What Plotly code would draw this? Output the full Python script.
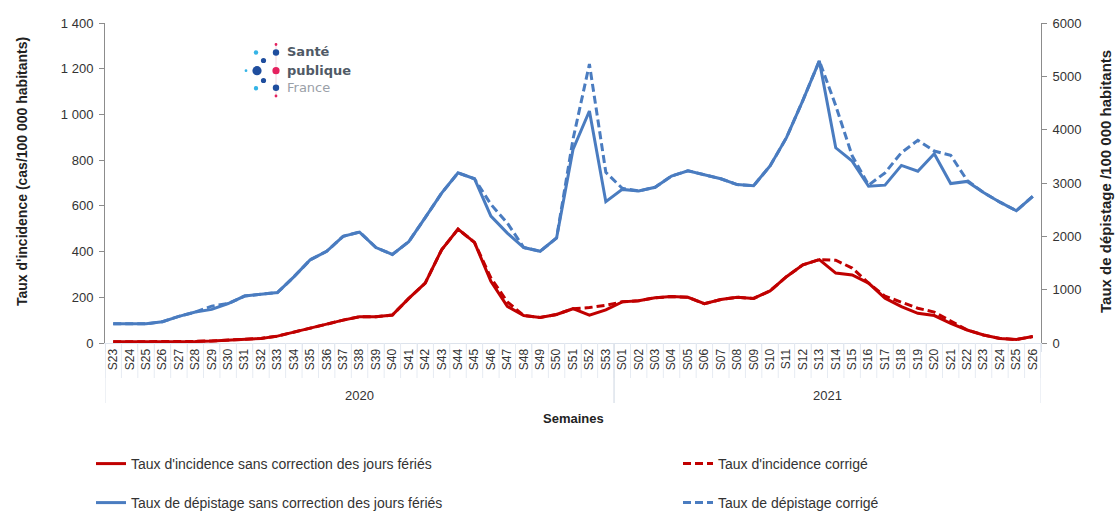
import plotly.graph_objects as go

# ---------------- data ----------------
weeks_2020 = ["S23", "S24", "S25", "S26", "S27", "S28", "S29", "S30", "S31", "S32",
              "S33", "S34", "S35", "S36", "S37", "S38", "S39", "S40", "S41", "S42",
              "S43", "S44", "S45", "S46", "S47", "S48", "S49", "S50", "S51", "S52", "S53"]
weeks_2021 = ["S01", "S02", "S03", "S04", "S05", "S06", "S07", "S08", "S09", "S10",
              "S11", "S12", "S13", "S14", "S15", "S16", "S17", "S18", "S19", "S20",
              "S21", "S22", "S23", "S24", "S25", "S26"]
year_labels = ["2020", "2021"]

incidence_raw = [5, 5, 5, 5, 6, 7, 9, 12, 16, 20,
                 30, 48, 65, 85, 100, 115, 115, 122, 195, 262,
                 408, 498, 440, 270, 160, 120, 112, 125, 150, 122, 145,
                 180, 185, 198, 203, 200, 172, 190, 200, 195, 228,
                 290, 342, 365, 306, 298, 262, 196, 159, 130, 120,
                 86, 57, 35, 20, 15, 28]
incidence_corr = [5, 5, 5, 5, 6, 7, 9, 12, 16, 20,
                  30, 48, 65, 85, 100, 115, 115, 122, 195, 262,
                  408, 498, 440, 285, 180, 120, 112, 125, 150, 155, 165,
                  180, 185, 198, 203, 200, 172, 190, 200, 195, 228,
                  290, 342, 365, 362, 328, 262, 205, 178, 152, 135,
                  95, 57, 35, 20, 15, 28]
depistage_raw = [360, 355, 360, 400, 500, 580, 630, 740, 880, 915,
                 945, 1240, 1560, 1720, 2000, 2080, 1790, 1660, 1900, 2350,
                 2810, 3190, 3080, 2380, 2060, 1790, 1720, 1970, 3630, 4350, 2650,
                 2880, 2850, 2920, 3130, 3230, 3150, 3080, 2970, 2950, 3320,
                 3850, 4550, 5290, 3660, 3410, 2940, 2960, 3330, 3220, 3550,
                 2990, 3030, 2820, 2640, 2480, 2750]
depistage_corr = [360, 355, 360, 400, 500, 580, 690, 740, 880, 915,
                  945, 1240, 1560, 1720, 2000, 2080, 1790, 1660, 1900, 2350,
                  2810, 3190, 3080, 2600, 2250, 1790, 1720, 1970, 3820, 5230, 3200,
                  2900, 2850, 2920, 3130, 3230, 3150, 3080, 2970, 2950, 3320,
                  3850, 4550, 5290, 4450, 3510, 2960, 3190, 3570, 3800, 3600,
                  3520, 3050, 2820, 2640, 2480, 2750]

names = ["Taux d'incidence sans correction des jours fériés",
         "Taux d'incidence corrigé",
         "Taux de dépistage sans correction des jours fériés",
         "Taux de dépistage corrigé"]

# ---------------- categories ----------------
groups = [(year_labels[0], weeks_2020), (year_labels[1], weeks_2021)]
x_keys, x_text = [], []
for yr, wks in groups:
    for w in wks:
        x_keys.append(yr + " " + w)
        x_text.append(w)

RED = "#c00000"
BLUE = "#4a7cc0"
DASH = "8px,4px"
FONT = "Liberation Sans, Arial, sans-serif"

fig = go.Figure()
fig.add_trace(go.Scatter(x=x_keys, y=incidence_corr, name=names[1], mode="lines",
                         line=dict(color=RED, width=3, dash=DASH),
                         legend="legend2", yaxis="y"))
fig.add_trace(go.Scatter(x=x_keys, y=depistage_corr, name=names[3], mode="lines",
                         line=dict(color=BLUE, width=3, dash=DASH),
                         legend="legend4", yaxis="y2"))
fig.add_trace(go.Scatter(x=x_keys, y=incidence_raw, name=names[0], mode="lines",
                         line=dict(color=RED, width=3),
                         legend="legend", yaxis="y"))
fig.add_trace(go.Scatter(x=x_keys, y=depistage_raw, name=names[2], mode="lines",
                         line=dict(color=BLUE, width=3),
                         legend="legend3", yaxis="y2"))

L, R, T, B = 105, 76, 23, 169
W, H = 1117, 512
PW, PH = W - L - R, H - T - B


def px(xpix):
    return (xpix - L) / PW


def py(ypix):
    return (T + PH - ypix) / PH


def leg(xpix, ypix):
    return dict(x=px(xpix), y=py(ypix), xanchor="left", yanchor="middle",
                orientation="v", font=dict(size=14, color="#333333", family=FONT),
                bgcolor="rgba(0,0,0,0)", borderwidth=0)


LIGHT_AX = "#dde3ec"
fig.update_layout(
    width=W, height=H,
    margin=dict(l=L, r=R, t=T, b=B, autoexpand=False),
    paper_bgcolor="white", plot_bgcolor="white",
    font=dict(family=FONT, color="#333333", size=12),
    separators=", ",
    showlegend=True,
    legend=leg(91, 464),
    legend2=leg(678, 464),
    legend3=leg(91, 503),
    legend4=leg(678, 503),
    xaxis=dict(type="category", range=[-0.5, len(x_keys) - 0.5],
               tickmode="array", tickvals=x_keys, ticktext=x_text,
               tickangle=-90, tickfont=dict(size=12, color="#333333"),
               ticks="outside", tickson="boundaries", ticklen=8, tickcolor=LIGHT_AX,
               showline=True, linecolor=LIGHT_AX, linewidth=1,
               showgrid=False, zeroline=False),
    yaxis=dict(range=[0, 1400], dtick=200, tickformat=",d",
               showline=True, linecolor="#8c8c8c", linewidth=1,
               ticks="outside", ticklen=5, tickcolor="#8c8c8c", ticklabelstandoff=3,
               showgrid=False, zeroline=False,
               tickfont=dict(size=13, color="#333333")),
    yaxis2=dict(range=[0, 6000], dtick=1000, tickformat="d",
                overlaying="y", side="right",
                showline=True, linecolor="#8c8c8c", linewidth=1,
                ticks="outside", ticklen=5, tickcolor="#8c8c8c", ticklabelstandoff=3,
                showgrid=False, zeroline=False,
                tickfont=dict(size=13, color="#333333")),
)

# axis titles and year group labels
fig.add_annotation(x=px(22), y=py(172), xref="paper", yref="paper", textangle=-90,
                   text="<b>Taux d'incidence (cas/100 000 habitants)</b>", showarrow=False,
                   xanchor="center", yanchor="middle",
                   font=dict(size=14, color="#222222", family=FONT))
fig.add_annotation(x=px(1105), y=py(182), xref="paper", yref="paper", textangle=-90,
                   text="<b>Taux de dépistage /100 000 habitants</b>", showarrow=False,
                   xanchor="center", yanchor="middle",
                   font=dict(size=15, color="#222222", family=FONT))
fig.add_annotation(x=0.5, y=py(418), xref="paper", yref="paper",
                   text="<b>Semaines</b>", showarrow=False,
                   xanchor="center", yanchor="middle",
                   font=dict(size=13, color="#222222", family=FONT))

shapes = []
# faint separators between week labels
for i in range(len(x_keys) + 1):
    shapes.append(dict(type="line", xref="x", yref="paper", x0=i - 0.5, x1=i - 0.5,
                       y0=0, y1=py(378), line=dict(color="#e6ebf2", width=1)))
start = 0
for yr, wks in groups:
    end = start + len(wks) - 1
    fig.add_annotation(x=(start + end) / 2, y=py(395), xref="x", yref="paper",
                       text=yr, showarrow=False, xanchor="center", yanchor="middle",
                       font=dict(size=13, color="#333333", family=FONT))
    for b in (start - 0.5, end + 0.5):
        shapes.append(dict(type="line", xref="x", yref="paper", x0=b, x1=b,
                           y0=0, y1=py(403), line=dict(color=LIGHT_AX, width=1)))
    start = end + 1

# ---------------- Santé publique France logo ----------------
DARK = "#1f4e9e"
LIGHT = "#35b4e6"
PINK = "#e5215f"
logo_dots = [
    (276, 44.5, 1.4, PINK), (256, 52.5, 2.2, LIGHT), (276, 52.5, 3.2, DARK),
    (263.5, 60.5, 2.6, DARK), (246, 70.7, 1.4, LIGHT), (257, 70.7, 4.6, DARK),
    (276, 70.7, 3.6, PINK), (263.5, 80.5, 2.6, DARK), (256, 88.3, 2.2, LIGHT),
    (276, 87.8, 3.2, DARK), (276, 96, 1.4, PINK),
]
shapes.append(dict(type="line", xref="paper", yref="paper",
                   x0=px(276), x1=px(276), y0=py(44), y1=py(96),
                   line=dict(color="#f0d5de", width=1), layer="below"))
for cx, cy, r, col in logo_dots:
    shapes.append(dict(type="circle", xref="paper", yref="paper",
                       xsizemode="pixel", ysizemode="pixel",
                       xanchor=px(cx), yanchor=py(cy),
                       x0=-r, x1=r, y0=-r, y1=r,
                       fillcolor=col, line=dict(width=0)))
fig.update_layout(shapes=shapes)

logo_text = [("<b>Santé</b>", 52, "#505a66"), ("<b>publique</b>", 70, "#505a66"),
             ("France", 87.5, "#9aa0a8")]
for txt, yy, col in logo_text:
    fig.add_annotation(x=px(285), y=py(yy), xref="paper", yref="paper",
                       text=txt, showarrow=False, xanchor="left", yanchor="middle",
                       font=dict(size=13, color=col, family="DejaVu Sans"))

# the page's default 8px body margin would shift the figure; remove it
fig.write_html("out.html", config={"displayModeBar": False},
               post_script="document.body.style.margin='0px';")
